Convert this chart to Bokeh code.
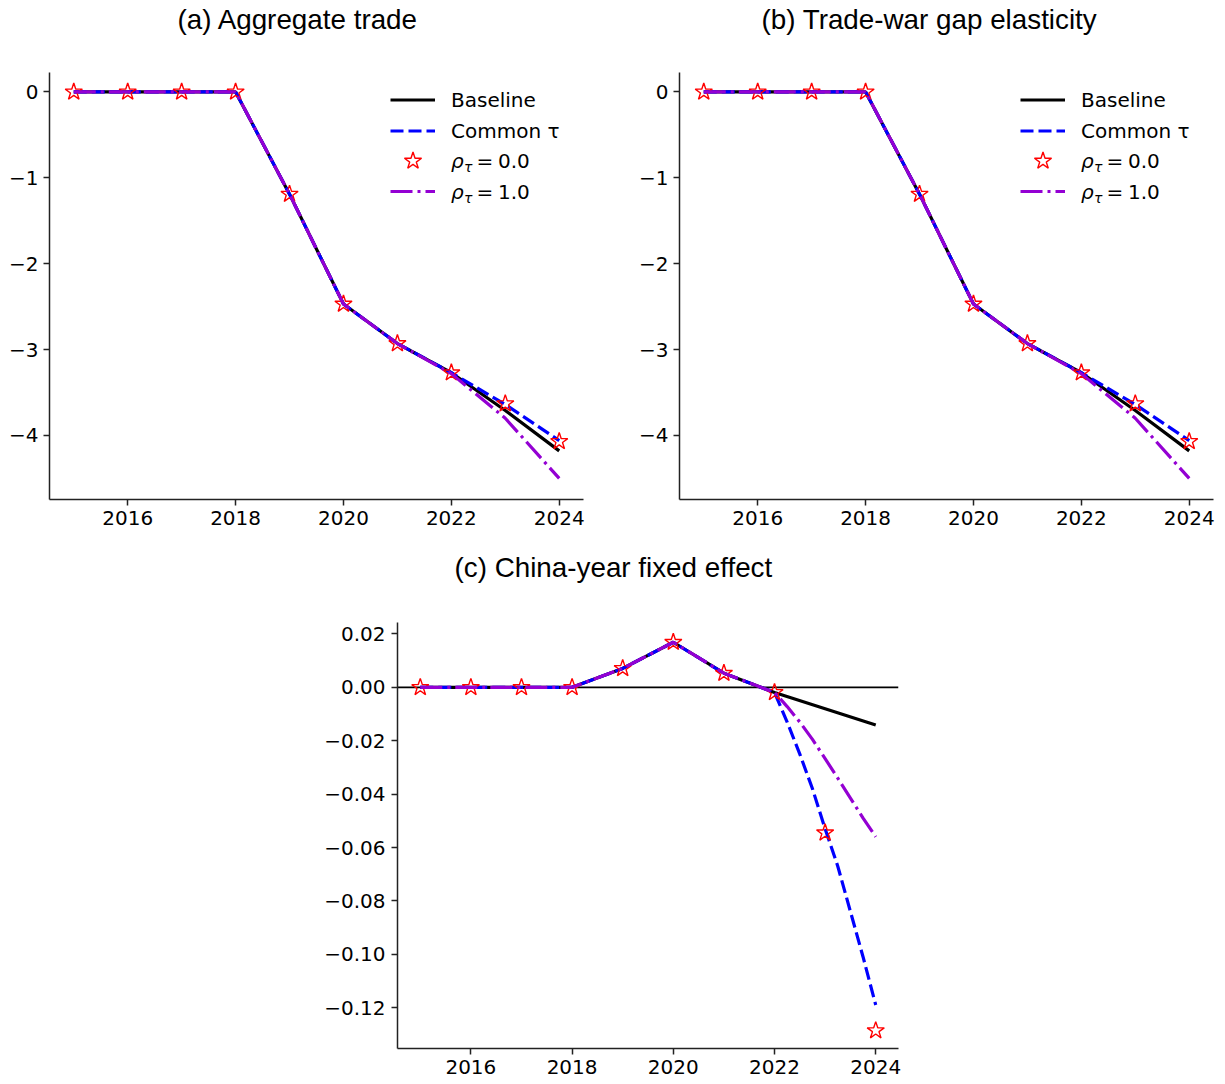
from bokeh.plotting import figure
from bokeh.models import Range1d, FixedTicker, Label, Legend, LegendItem, Span, Title
from bokeh.layouts import column, row
from bokeh.embed import file_html
from bokeh.resources import INLINE

# ---------------- data ----------------
years = [2015, 2016, 2017, 2018, 2019, 2020, 2021, 2022, 2023, 2024]

a_baseline = [0.0, 0.0, 0.0, 0.0, -1.19, -2.47, -2.93, -3.27, -3.71, -4.18]
a_common = [0.0, 0.0, 0.0, 0.0, -1.19, -2.47, -2.93, -3.27, -3.64, -4.06]
a_rho0 = [0.0, 0.0, 0.0, 0.0, -1.19, -2.47, -2.93, -3.27, -3.63, -4.07]
a_rho1 = [0.0, 0.0, 0.0, 0.0, -1.19, -2.47, -2.93, -3.28, -3.80, -4.50]

b_baseline = [0.0, 0.0, 0.0, 0.0, -1.19, -2.47, -2.93, -3.27, -3.71, -4.18]
b_common = [0.0, 0.0, 0.0, 0.0, -1.19, -2.47, -2.93, -3.27, -3.64, -4.06]
b_rho0 = [0.0, 0.0, 0.0, 0.0, -1.19, -2.47, -2.93, -3.27, -3.63, -4.07]
b_rho1 = [0.0, 0.0, 0.0, 0.0, -1.19, -2.47, -2.93, -3.28, -3.80, -4.50]

c_baseline = [0.0, 0.0, 0.0, 0.0, 0.0071, 0.0169, 0.0053, -0.0019, -0.0080, -0.0141]
c_rho0 = [0.0, 0.0, 0.0, 0.0, 0.0071, 0.0169, 0.0053, -0.0019, -0.0545, -0.1286]
c_curve_years = [2015, 2016, 2017, 2018, 2019, 2020, 2021, 2022,
                 2022.25, 2022.5, 2022.75, 2023, 2023.25, 2023.5, 2023.75, 2024]
c_common = [0.0, 0.0, 0.0, 0.0, 0.0071, 0.0169, 0.0053, -0.0019,
            -0.013, -0.025, -0.038, -0.053, -0.067, -0.084, -0.101, -0.119]
c_rho1 = [0.0, 0.0, 0.0, 0.0, 0.0071, 0.0169, 0.0053, -0.0019,
          -0.0072, -0.0130, -0.0195, -0.0267, -0.0340, -0.0415, -0.0490, -0.0560]

year_ticks = [2016, 2018, 2020, 2022, 2024]
year_tick_labels = ["2016", "2018", "2020", "2022", "2024"]
ab_yticks = [0, -1, -2, -3, -4]
ab_ytick_labels = ["0", "\u22121", "\u22122", "\u22123", "\u22124"]
c_yticks = [0.02, 0.0, -0.02, -0.04, -0.06, -0.08, -0.10, -0.12]
c_ytick_labels = ["0.02", "0.00", "\u22120.02", "\u22120.04", "\u22120.06",
                  "\u22120.08", "\u22120.10", "\u22120.12"]

titles = ["(a) Aggregate trade", "(b) Trade-war gap elasticity", "(c) China-year fixed effect"]
legend_labels = ["Baseline", "Common \u03c4", "0.0", "1.0"]

TICK_FONT = "DejaVu Sans"
TITLE_FONT = "Liberation Sans"
LW = 3.2
DASH = "13 5"
DASHDOT = "22 5 3 5"


def style_axes(p, yticks, ylabels, ystandoff):
    p.xaxis.ticker = FixedTicker(ticks=year_ticks, minor_ticks=[])
    p.xaxis.major_label_overrides = {t: l for t, l in zip(year_ticks, year_tick_labels)}
    p.yaxis.ticker = FixedTicker(ticks=yticks, minor_ticks=[])
    p.yaxis.major_label_overrides = {t: l for t, l in zip(yticks, ylabels)}
    for ax in (p.xaxis, p.yaxis):
        ax.major_tick_in = 0
        ax.major_tick_out = 6
        ax.minor_tick_in = 0
        ax.minor_tick_out = 0
        ax.axis_line_color = "#222222"
        ax.axis_line_width = 1.5
        ax.major_tick_line_color = "#222222"
        ax.major_tick_line_width = 1.5
        ax.major_label_text_font = TICK_FONT
        ax.major_label_text_font_size = "20px"
        ax.major_label_text_color = "black"
    p.xaxis.major_label_standoff = 5
    p.yaxis.major_label_standoff = ystandoff
    p.xgrid.visible = False
    p.ygrid.visible = False
    p.outline_line_color = None


def make_fig(width, height, left, right, top, bottom, yr):
    p = figure(width=width, height=height, output_backend="svg", toolbar_location=None,
               x_range=Range1d(2014.55, 2024.45), y_range=Range1d(*yr),
               min_border_left=left, min_border_right=right,
               min_border_top=top, min_border_bottom=bottom)
    p.background_fill_color = "white"
    p.border_fill_color = "white"
    return p


def add_title(p, text, offset, size, gap):
    # an empty spacer title sits between the frame and the real title
    p.add_layout(Title(text=" ", text_font_size="1px", standoff=gap), "above")
    p.add_layout(Title(text=text, align="left", offset=offset, standoff=0,
                       text_font=TITLE_FONT, text_font_size=size,
                       text_font_style="normal", text_color="black"), "above")


def add_label(p, x, y, text, size, font=TICK_FONT, style="normal", align="left",
              baseline="middle"):
    p.add_layout(Label(x=x, y=y, x_units="screen", y_units="screen", text=text,
                       text_font=font, text_font_size=size, text_font_style=style,
                       text_align=align, text_baseline=baseline, text_color="black"))


def draw_series(p, xb, yb, xc, yc, xr0, yr0, xr1, yr1):
    r_base = p.line(xb, yb, line_color="black", line_width=LW)
    r_com = p.line(xc, yc, line_color="blue", line_width=LW, line_dash=DASH)
    r_star = p.scatter(xr0, yr0, marker="star", size=18, line_color="red",
                       line_width=1.4, fill_alpha=0)
    r_rho1 = p.line(xr1, yr1, line_color="darkviolet", line_width=LW, line_dash=DASHDOT)
    return [r_base, r_com, r_star, r_rho1]


def make_legend(renderers, vx, vy, gh, spacing):
    items = [LegendItem(label=" ", renderers=[r]) for r in renderers]
    return Legend(items=items, location=(vx, vy), orientation="vertical",
                  glyph_width=45, glyph_height=gh, spacing=spacing, padding=0, margin=0,
                  label_standoff=0, label_width=1, label_height=1,
                  label_text_font_size="1px", border_line_alpha=0,
                  background_fill_alpha=0)


def add_legend(p, rs, frame_h):
    vx = 341
    # rows centred (from frame top) at about 27.5, 58, 88.5, 119
    p.add_layout(make_legend(rs[0:2], vx, frame_h - 17 - 52, 21, 10), "center")
    p.add_layout(make_legend(rs[2:3], vx, frame_h - 66 - 45, 45, 0), "center")
    p.add_layout(make_legend(rs[3:4], vx, frame_h - 109 - 20, 20, 0), "center")
    rows_y = [frame_h - 27.5, frame_h - 58.5, frame_h - 88.5, frame_h - 119]
    add_label(p, 401.5, rows_y[0], legend_labels[0], "20px")
    add_label(p, 401.5, rows_y[1], legend_labels[1], "20px")
    for ry, txt in ((rows_y[2], legend_labels[2]), (rows_y[3], legend_labels[3])):
        add_label(p, 401.5, ry, "\u03c1", "20px", style="italic")
        add_label(p, 414.5, ry - 6, "\u03c4", "14px", style="italic")
        add_label(p, 427, ry, "=", "20px")
        add_label(p, 448.5, ry, txt, "20px")


# ---------------- panel (a) ----------------
FA_H = 427
pa = make_fig(623, 72 + FA_H + 36, 49, 40, 72, 36, (-4.746, 0.2265))
style_axes(pa, ab_yticks, ab_ytick_labels, 5)
ra = draw_series(pa, years, a_baseline, years, a_common, years, a_rho0, years, a_rho1)
add_legend(pa, ra, FA_H)
add_title(pa, titles[0], 128, "27.8px", 35)

# ---------------- panel (b) ----------------
pb = make_fig(600, 72 + FA_H + 36, 56, 10, 72, 36, (-4.746, 0.2265))
style_axes(pb, ab_yticks, ab_ytick_labels, 5)
rb = draw_series(pb, years, b_baseline, years, b_common, years, b_rho0, years, b_rho1)
add_legend(pb, rb, FA_H)
add_title(pb, titles[1], 82, "27.8px", 35)

# ---------------- panel (c) ----------------
FC_H = 426
pc = make_fig(938, 87 + FC_H + 34, 397, 40, 87, 34, (-0.1353, 0.0243))
style_axes(pc, c_yticks, c_ytick_labels, 6)
pc.add_layout(Span(location=0, dimension="width", line_color="black", line_width=1.6,
                   level="underlay"))
draw_series(pc, years, c_baseline, c_curve_years, c_common, years, c_rho0,
            c_curve_years, c_rho1)
add_title(pc, titles[2], 57, "27.8px", 37)

layout = column(row(pa, pb), pc)
open("out.html", "w").write(file_html(layout, INLINE))
